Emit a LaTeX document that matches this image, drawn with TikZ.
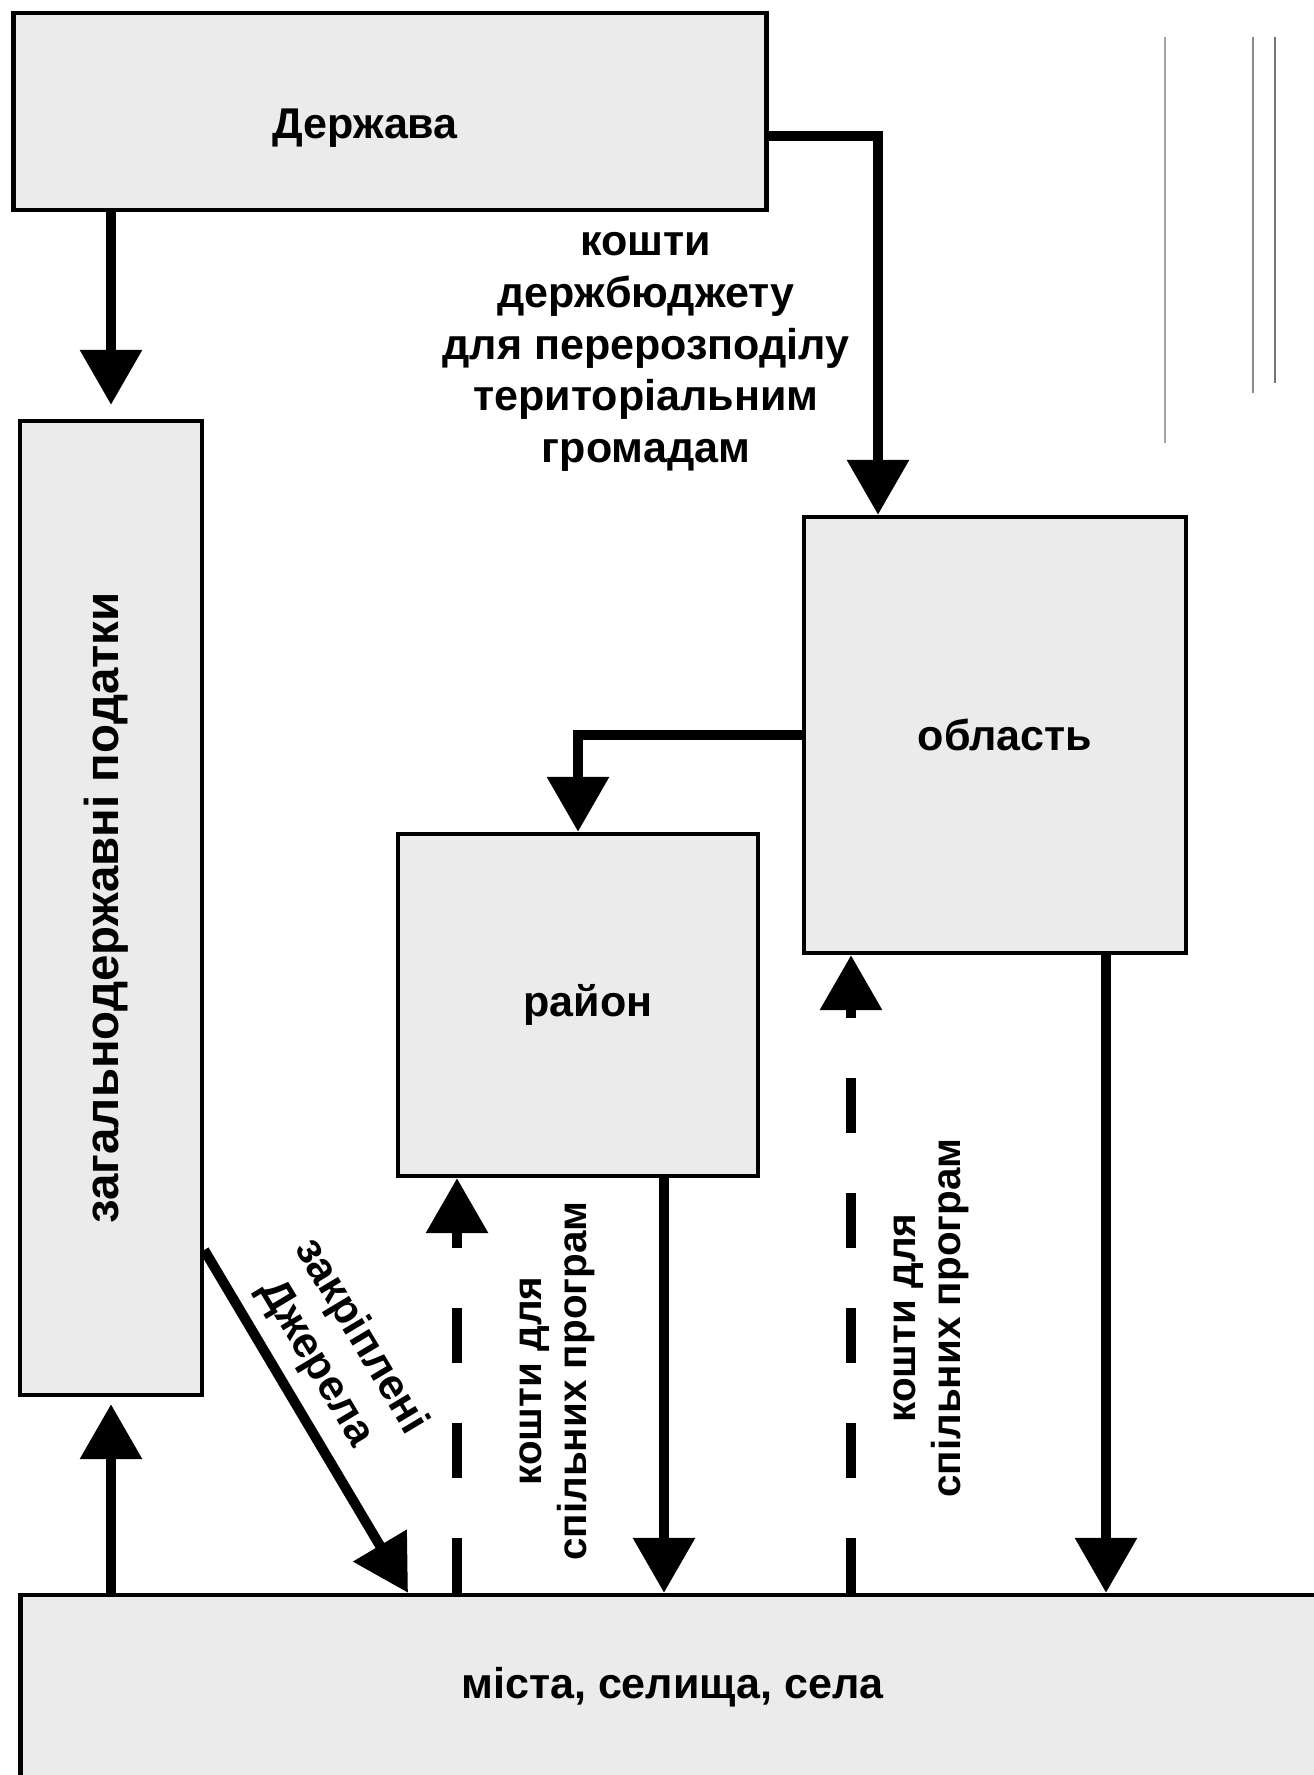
\documentclass[tikz,border=0pt]{standalone}
\usepackage{fontspec}
\setmainfont{Liberation Sans}
\usetikzlibrary{arrows.meta}

\begin{document}
\begin{tikzpicture}[
    font=\bfseries\fontsize{24.5}{29.5}\selectfont,
    box/.style={draw, line width=2.5pt, fill=black!8, inner sep=0pt},
    arr/.style={line width=0.2cm, -{Triangle[length=1.1cm, width=1.2cm]}},
    dasharr/.style={arr, dash pattern=on 1.1cm off 1.2cm},
    rotlabel/.style={align=center, rotate=90, font=\bfseries\fontsize{23}{25.5}\selectfont}]
    \useasboundingbox (0,0) rectangle (26.28,35.5);
    \clip (0,0) rectangle (26.28,35.5);
    \draw[black!35, line width=0.6pt] (23.3,34.76) -- (23.3,26.64);
    \draw[black!45, line width=0.6pt] (25.06,34.76) -- (25.06,27.64);
    \draw[black!55, line width=0.8pt] (25.5,34.76) -- (25.5,27.84);

    \node[box, minimum width=15.06cm, minimum height=3.94cm] (derzh) at (7.8,33.27) {};
    \node (derzhtext) at ([xshift=-0.5cm, yshift=-0.34cm]derzh.center) {Держава};
    \node[box, minimum width=3.64cm, minimum height=19.48cm] (zag) at (2.22,17.34) {};
    \node[rotate=90, font=\bfseries\fontsize{27}{30}\selectfont] (zagtext) at ([xshift=-0.1cm]zag.center) {загальнодержавні податки};
    \node[box, minimum width=7.64cm, minimum height=8.72cm] (obl) at (19.9,20.8) {};
    \node (obltext) at ([xshift=0.2cm]obl.center) {область};
    \node[box, minimum width=7.2cm, minimum height=6.84cm] (rajon) at (11.56,15.4) {};
    \node (rajontext) at ([xshift=0.2cm]rajon.center) {район};
    \node[box, minimum width=26.08cm, minimum height=3.7cm] (mista) at (13.45,1.75) {міста, селища, села};

    \node[align=center] (budget) at (12.92,28.46) {кошти\\держбюджету\\для перерозподілу\\територіальним\\громадам};
    \node[rotlabel] (spil1) at (11.14,7.88) {кошти для\\спільних програм};
    \node[rotlabel] (spil2) at (18.62,9.14) {кошти для\\спільних програм};
    \node[align=center, rotate=-59] (zakr) at (6.76,8.5) {закріплені\\Джерела};

    \draw[arr, shorten >=0.28cm] (derzh.south -| zag.north) -- (zag.north);
    \draw[arr] ([yshift=-0.49cm]derzh.east) -| ([xshift=-2.34cm]obl.north);
    \draw[arr] (obl.west) -| (rajon.north);
    \draw[arr, shorten >=0.14cm] (mista.north -| zag.south) -- (zag.south);
    \draw[arr] (zag.east |- 0,10.5) -- (mista.north -| 8.16,0);
    \draw[dasharr] ([xshift=-2.42cm]rajon.south |- mista.north) -- ([xshift=-2.42cm]rajon.south);
    \draw[arr] ([xshift=1.72cm]rajon.south) -- ([xshift=1.72cm]rajon.south |- mista.north);
    \draw[dasharr] ([xshift=-2.88cm]obl.south |- mista.north) -- ([xshift=-2.88cm]obl.south);
    \draw[arr] ([xshift=2.22cm]obl.south) -- ([xshift=2.22cm]obl.south |- mista.north);
\end{tikzpicture}
\end{document}
